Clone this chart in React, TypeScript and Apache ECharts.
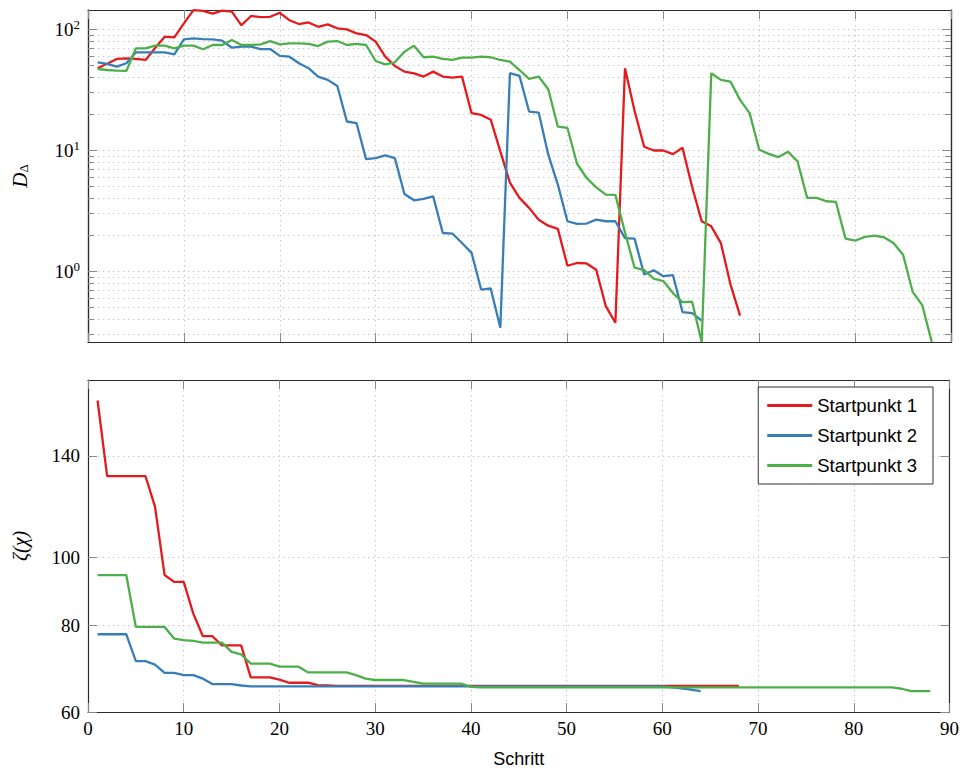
import React, { useEffect, useRef } from 'react';
import * as echarts from 'echarts';

const seriesNames = ['Startpunkt 1', 'Startpunkt 2', 'Startpunkt 3'];
const colors = ['#e41a1c', '#377eb8', '#4daf4a'];

// Top panel: D_Delta per step (step = index + 1)
const dRed = [
  47.7, 52, 56.9, 57.5, 57, 55.8, 70, 86.9, 85.8, 112,
  144, 142, 135, 143, 140, 108, 129, 126, 127, 137,
  119, 110.6, 114, 105, 110, 102, 100, 92.7, 89.7, 79.1,
  59.4, 49.8, 44.7, 43.3, 40.7, 44.7, 40.7, 39.9, 40.7, 20.3,
  19.6, 17.9, 9.8, 5.4, 4.04, 3.34, 2.67, 2.38, 2.24, 1.11,
  1.17, 1.16, 1.03, 0.514, 0.375, 47.7, 21.2, 10.7, 9.96, 9.96,
  9.3, 10.5, 5.0, 2.59, 2.35, 1.71, 0.78, 0.43,
];
const dBlue = [
  53.4, 51.8, 49.1, 52.4, 64.6, 64.6, 64.6, 64.6, 62.2, 82.6,
  84.3, 83.1, 82.6, 80.5, 70.5, 72, 72, 68.7, 68.7, 60.3,
  59.4, 52.4, 47.7, 40.7, 38.2, 34.0, 17.3, 16.8, 8.45, 8.62,
  9.06, 8.62, 4.35, 3.86, 3.96, 4.16, 2.07, 2.05, 1.71, 1.42,
  0.706, 0.72, 0.341, 43.4, 41.2, 20.9, 20.5, 9.2, 5.2, 2.59,
  2.46, 2.48, 2.67, 2.59, 2.59, 1.88, 1.86, 0.94, 1.02, 0.91,
  0.93, 0.46, 0.45, 0.39,
];
const dGreen = [
  47, 46.1, 45.5, 45.3, 69.7, 69.7, 73.3, 73.3, 69.7, 73.3,
  73.3, 68.4, 74.2, 74.2, 81.6, 74.2, 74.2, 75.2, 80, 75.2,
  76.5, 76.5, 75.7, 72.8, 79.1, 80, 74.2, 75.7, 74.2, 54.7,
  51.4, 53.4, 65.3, 73.3, 58.8, 59.4, 56.9, 55.8, 58.4, 58.4,
  59.4, 58.8, 55.8, 54.1, 46.1, 38.9, 40.7, 32, 15.7, 15.3,
  7.74, 5.9, 4.93, 4.3, 4.28, 2.1, 1.07, 1.02, 0.87, 0.83,
  0.66, 0.555, 0.56, 0.26, 43.4, 38.2, 37, 26.1, 20.3, 10.1,
  9.35, 8.79, 9.72, 8.09, 4.04, 4.04, 3.79, 3.74, 1.86, 1.79,
  1.92, 1.97, 1.91, 1.71, 1.37, 0.676, 0.525, 0.26,
];

// Bottom panel: zeta(chi) per step
const zRed = [
  168.2, 131, 131, 131, 131, 131, 118.4, 94.4, 92.3, 92.3,
  83.1, 77.1, 77.1, 74.8, 74.8, 74.8, 67.3, 67.3, 67.3, 66.8,
  66.1, 66.1, 66.1, 65.6, 65.5, 65.4, 65.4, 65.4, 65.4, 65.4,
  65.4, 65.4, 65.4, 65.4, 65.4, 65.4, 65.4, 65.4, 65.4, 65.4,
  65.4, 65.4, 65.4, 65.4, 65.4, 65.4, 65.4, 65.4, 65.4, 65.4,
  65.4, 65.4, 65.4, 65.4, 65.4, 65.4, 65.4, 65.4, 65.4, 65.4,
  65.4, 65.4, 65.4, 65.4, 65.4, 65.4, 65.4, 65.4,
];
const zBlue = [
  77.6, 77.6, 77.6, 77.6, 71.0, 71.0, 70.2, 68.3, 68.3, 67.8,
  67.8, 67.0, 65.8, 65.8, 65.8, 65.5, 65.3, 65.3, 65.3, 65.3,
  65.3, 65.3, 65.3, 65.3, 65.3, 65.3, 65.3, 65.3, 65.3, 65.3,
  65.3, 65.3, 65.3, 65.3, 65.3, 65.3, 65.3, 65.3, 65.3, 65.3,
  65.3, 65.3, 65.3, 65.3, 65.3, 65.3, 65.3, 65.3, 65.3, 65.3,
  65.3, 65.3, 65.3, 65.3, 65.3, 65.3, 65.3, 65.3, 65.3, 65.3,
  65.1, 64.9, 64.6, 64.3,
];
const zGreen = [
  94.4, 94.4, 94.4, 94.4, 79.5, 79.5, 79.5, 79.5, 76.5, 76.1,
  75.9, 75.5, 75.5, 75.5, 73.2, 72.6, 70.4, 70.4, 70.4, 69.7,
  69.7, 69.7, 68.4, 68.4, 68.4, 68.4, 68.4, 67.8, 67.0, 66.7,
  66.7, 66.7, 66.7, 66.3, 65.9, 65.9, 65.9, 65.9, 65.9, 65.2,
  65.1, 65.1, 65.1, 65.1, 65.1, 65.1, 65.1, 65.1, 65.1, 65.1,
  65.1, 65.1, 65.1, 65.1, 65.1, 65.1, 65.1, 65.1, 65.1, 65.1,
  65.1, 65.1, 65.1, 65.1, 65.1, 65.1, 65.1, 65.1, 65.1, 65.1,
  65.1, 65.1, 65.1, 65.1, 65.1, 65.1, 65.1, 65.1, 65.1, 65.1,
  65.1, 65.1, 65.1, 65.1, 64.8, 64.3, 64.3, 64.3,
];

const topMajorTicks = [1, 10, 100];
const topMinorTicks = [0.3, 0.4, 0.5, 0.6, 0.7, 0.8, 0.9, 2, 3, 4, 5, 6, 7, 8, 9, 20, 30, 40, 50, 60, 70, 80, 90];
const bottomTicks = [60, 80, 100, 140];
const xLabelTicks = [0, 10, 20, 30, 40, 50, 60, 70, 80, 90];

const toPairs = (arr: number[]) => arr.map((v, i) => [i + 1, v]);

export default function App() {
  const ref = useRef<HTMLDivElement>(null);
  useEffect(() => {
    const chart = echarts.init(ref.current!, null, { renderer: 'svg' });
    const serif = 'Liberation Serif';
    const sans = 'Liberation Sans';
    const frame = { show: true, onZero: false, lineStyle: { color: '#2b2b2b', width: 1.2 } };
    const tickColor = '#8a8a8a';
    const dotted = { show: true, lineStyle: { color: '#c2c2c2', type: [1.3, 3.7], width: 1 } };

    const xAx = (gridIndex: number, position: string, labels: boolean, split: boolean, extra: any = {}) => ({
      type: 'value', gridIndex, position, min: 0, max: 90, interval: 10,
      axisLine: frame,
      axisTick: { show: true, inside: true, length: 9, lineStyle: { color: tickColor, width: 1 } },
      axisLabel: labels
        ? { show: true, margin: 7, fontFamily: serif, fontSize: 19, color: '#000', customValues: xLabelTicks }
        : { show: false },
      splitLine: split ? dotted : { show: false },
      ...extra,
    });

    const topY = (position: string, ticks: number[], len: number, labels: boolean, split: boolean, extra: any = {}) => ({
      type: 'log', logBase: 10, gridIndex: 0, position, min: 0.26, max: 144.5,
      axisLine: frame,
      axisTick: { show: true, inside: true, length: len, customValues: ticks, lineStyle: { color: tickColor, width: 1 } },
      axisLabel: labels
        ? {
            show: true, margin: 8, customValues: ticks,
            formatter: (v: number) => `{b|10}{e|${Math.round(Math.log10(v))}}`,
            rich: {
              b: { fontFamily: serif, fontSize: 19, color: '#000' },
              e: { fontFamily: serif, fontSize: 13, color: '#000', padding: [0, 0, 9, 0] },
            },
          }
        : { show: false },
      splitLine: split ? dotted : { show: false },
      ...extra,
    });

    const botY = (position: string, labels: boolean, split: boolean, extra: any = {}) => ({
      type: 'log', logBase: 10, gridIndex: 1, position, min: 60, max: 180,
      axisLine: frame,
      axisTick: { show: true, inside: true, length: 9, customValues: bottomTicks, lineStyle: { color: tickColor, width: 1 } },
      axisLabel: labels
        ? { show: true, margin: 8, customValues: bottomTicks, fontFamily: serif, fontSize: 19, color: '#000', formatter: (v: number) => String(Math.round(v)) }
        : { show: false },
      splitLine: split ? dotted : { show: false },
      ...extra,
    });

    const mk = (name: string, color: string, data: number[], xi: number, yi: number) => ({
      type: 'line', name, data: toPairs(data), xAxisIndex: xi, yAxisIndex: yi,
      showSymbol: false, symbol: 'none',
      lineStyle: { color, width: 2.3 }, itemStyle: { color },
      z: 3,
    });

    chart.setOption({
      animation: false,
      backgroundColor: '#fff',
      grid: [
        { left: 88, top: 10, width: 863, height: 332 },
        { left: 88, top: 380, width: 863, height: 332 },
      ],
      xAxis: [
        xAx(0, 'bottom', false, true),
        xAx(0, 'top', false, false),
        xAx(1, 'bottom', true, true, {
          name: 'Schritt', nameLocation: 'middle', nameGap: 38,
          nameTextStyle: { fontFamily: sans, fontSize: 18, color: '#000' },
        }),
        xAx(1, 'top', false, false),
      ],
      yAxis: [
        topY('left', topMajorTicks, 9, true, true, {
          name: '{d|D}{s|Δ}', nameLocation: 'middle', nameRotate: 90, nameGap: 58,
          nameTextStyle: {
            rich: {
              d: { fontFamily: serif, fontStyle: 'italic', fontSize: 21, color: '#000' },
              s: { fontFamily: serif, fontSize: 13, color: '#000', padding: [8, 0, 0, 0] },
            },
          },
        }),
        topY('left', topMinorTicks, 6, false, true),
        topY('right', topMajorTicks, 9, false, false),
        topY('right', topMinorTicks, 6, false, false),
        botY('left', true, true, {
          name: 'ζ(χ)', nameLocation: 'middle', nameRotate: 90, nameGap: 58,
          nameTextStyle: { fontFamily: serif, fontStyle: 'italic', fontSize: 20, color: '#000' },
        }),
        botY('right', false, false),
      ],
      legend: {
        data: seriesNames,
        orient: 'vertical',
        right: 29, top: 387,
        padding: [9, 16, 9, 9],
        itemGap: 11,
        itemWidth: 45, itemHeight: 3,
        icon: 'rect',
        borderColor: '#333', borderWidth: 1, borderRadius: 0,
        backgroundColor: '#fff',
        textStyle: { fontFamily: sans, fontSize: 18.5, color: '#000' },
      },
      series: [
        mk(seriesNames[0], colors[0], dRed, 0, 0),
        mk(seriesNames[1], colors[1], dBlue, 0, 0),
        mk(seriesNames[2], colors[2], dGreen, 0, 0),
        mk(seriesNames[0], colors[0], zRed, 2, 4),
        mk(seriesNames[1], colors[1], zBlue, 2, 4),
        mk(seriesNames[2], colors[2], zGreen, 2, 4),
      ],
    });
    return () => chart.dispose();
  }, []);
  return <div ref={ref} style={{ position: 'absolute', left: 0, top: 0, width: 962, height: 772 }} />;
}
